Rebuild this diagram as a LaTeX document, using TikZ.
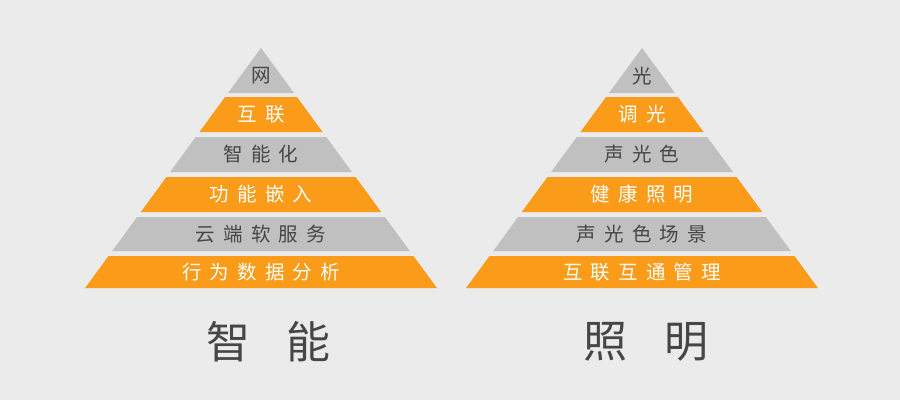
\documentclass[tikz,border=0pt]{standalone}
\usepackage{fontspec}
\newfontfamily\bandfont[LetterSpace=42]{Noto Sans CJK SC}
\newfontfamily\titlefont[LetterSpace=82]{Noto Sans CJK SC}
\definecolor{bgc}{RGB}{235,235,235}
\definecolor{pyrorange}{RGB}{250,155,25}
\definecolor{pyrgrey}{RGB}{192,192,192}
\definecolor{darktext}{RGB}{70,70,70}
\tikzset{
  greyband/.style={fill=pyrgrey},
  orangeband/.style={fill=pyrorange},
  greylabel/.style={text=darktext, inner sep=0pt, font=\bandfont\fontsize{19.5}{19.5}\selectfont},
  orangelabel/.style={text=white, inner sep=0pt, font=\bandfont\fontsize{19.5}{19.5}\selectfont},
  pyrtitle/.style={text=darktext, inner sep=0pt, font=\titlefont\fontsize{44}{44}\selectfont}
}
\begin{document}
\begin{tikzpicture}[x=1pt,y=-1pt]
    \fill[bgc] (0,0) rectangle (900,400);

    % Pyramid 智能
    \foreach \n/\ya/\yb/\ty/\bs/\ts/\lbl in {1/48/93/76/greyband/greylabel/网,
        2/97/132/114.5/orangeband/orangelabel/互联,
        3/137/172/154.5/greyband/greylabel/智能化,
        4/177/212/194.5/orangeband/orangelabel/功能嵌入,
        5/217/251/234/greyband/greylabel/云端软服务,
        6/256/288/272/orangeband/orangelabel/行为数据分析}
    {
        \fill[\bs] ({261-0.733*(\ya-48)},\ya) -- ({261+0.733*(\ya-48)},\ya)
            -- ({261+0.733*(\yb-48)},\yb) -- ({261-0.733*(\yb-48)},\yb) -- cycle;
        \node[\ts] (zn\n) at (261,\ty) {\lbl};
    }
    \node[pyrtitle] (zntitle) at (269,342) {智能};

    % Pyramid 照明
    \foreach \n/\ya/\yb/\ty/\bs/\ts/\lbl in {1/48/93/76/greyband/greylabel/光,
        2/97/132/114.5/orangeband/orangelabel/调光,
        3/137/172/154.5/greyband/greylabel/声光色,
        4/177/212/194.5/orangeband/orangelabel/健康照明,
        5/217/251/234/greyband/greylabel/声光色场景,
        6/256/288/272/orangeband/orangelabel/互联互通管理}
    {
        \fill[\bs] ({642-0.733*(\ya-48)},\ya) -- ({642+0.733*(\ya-48)},\ya)
            -- ({642+0.733*(\yb-48)},\yb) -- ({642-0.733*(\yb-48)},\yb) -- cycle;
        \node[\ts] (zm\n) at (642,\ty) {\lbl};
    }
    \node[pyrtitle] (zmtitle) at (646,342) {照明};
\end{tikzpicture}
\end{document}
